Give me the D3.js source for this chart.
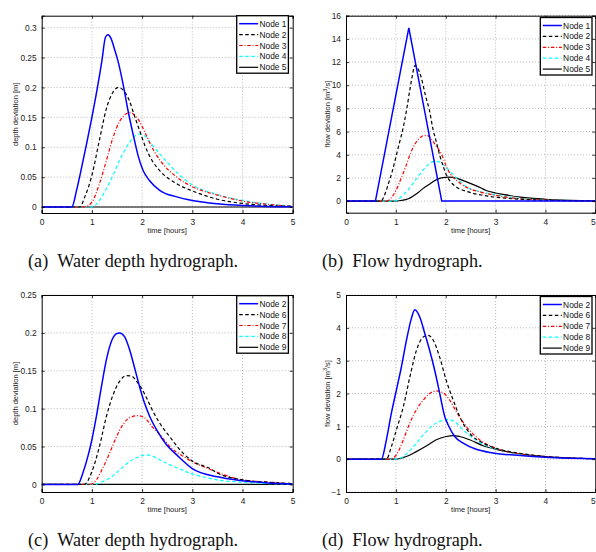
<!DOCTYPE html>
<html>
<head>
<meta charset="utf-8">
<script src="https://cdn.jsdelivr.net/npm/d3@7"></script>
<style>
  body { margin: 0; background: #fff; }
  svg { display: block; font-family: "Liberation Sans", Arial, sans-serif; }
</style>
</head>
<body>
<svg id="chart"></svg>
<script>
// ---- data: [time in hours, value] ----
const timeTicks = [0, 1, 2, 3, 4, 5];

const depthTicksA = [0, 0.05, 0.1, 0.15, 0.2, 0.25, 0.3];
const flowTicksB = [0, 2, 4, 6, 8, 10, 12, 14, 16];
const depthTicksC = [0, 0.05, 0.1, 0.15, 0.2, 0.25];
const flowTicksD = [-1, 0, 1, 2, 3, 4, 5];

const aNode1 = [[0,0],[0.6,0],[0.7,0.03],[0.8,0.068],[0.9,0.108],[1.0,0.15],[1.1,0.195],[1.2,0.245],[1.27,0.284],[1.32,0.288],[1.38,0.282],[1.45,0.264],[1.52,0.244],[1.62,0.206],[1.72,0.161],[1.82,0.122],[1.93,0.083],[2.02,0.061],[2.15,0.044],[2.35,0.028],[2.69,0.017],[3.0,0.011],[3.5,0.0055],[4.0,0.0025],[4.5,0.001],[5,0.0003]];
const aNode2 = [[0,0],[0.76,0],[0.85,0.015],[1.0,0.053],[1.15,0.112],[1.29,0.165],[1.42,0.192],[1.53,0.2],[1.65,0.193],[1.75,0.177],[1.85,0.152],[1.95,0.128],[2.05,0.104],[2.19,0.079],[2.35,0.061],[2.69,0.039],[3.0,0.027],[3.5,0.013],[4.0,0.006],[4.5,0.0025],[5,0.001]];
const aNode3 = [[0,0],[0.85,0],[1.0,0.008],[1.15,0.039],[1.29,0.078],[1.42,0.116],[1.55,0.143],[1.67,0.155],[1.76,0.158],[1.85,0.154],[1.95,0.143],[2.05,0.126],[2.19,0.101],[2.35,0.079],[2.69,0.05],[3.0,0.034],[3.5,0.02],[4.0,0.01],[4.5,0.0045],[5,0.0015]];
const aNode4 = [[0,0],[1.0,0],[1.15,0.011],[1.29,0.031],[1.42,0.053],[1.55,0.078],[1.69,0.1],[1.82,0.116],[1.95,0.122],[2.05,0.119],[2.15,0.109],[2.35,0.089],[2.69,0.058],[3.0,0.037],[3.5,0.021],[4.0,0.011],[4.5,0.005],[5,0.0015]];
const aNode5 = [[0,0],[5,0]];

const bNode1 = [[0,0],[0.59,0],[1.26,14.95],[1.92,0],[5,0]];
const bNode2 = [[0,0],[0.7,0],[0.78,0.6],[0.85,1.5],[0.93,2.6],[1.0,3.8],[1.07,5.0],[1.15,6.4],[1.22,8.0],[1.28,9.6],[1.33,10.8],[1.38,11.7],[1.42,11.6],[1.5,10.8],[1.6,9.0],[1.67,7.9],[1.75,6.1],[1.8,5.3],[1.88,3.95],[1.95,3.0],[2.02,2.2],[2.1,1.65],[2.2,1.26],[2.47,0.77],[2.75,0.5],[3.0,0.34],[3.5,0.16],[4.0,0.08],[4.5,0.03],[5,0.01]];
const bNode3 = [[0,0],[0.82,0],[0.9,0.25],[1.0,0.9],[1.1,1.9],[1.2,3.0],[1.3,4.2],[1.38,4.9],[1.47,5.4],[1.57,5.66],[1.63,5.65],[1.7,5.45],[1.8,4.8],[1.87,4.4],[1.95,3.7],[2.02,2.9],[2.1,2.3],[2.2,1.85],[2.3,1.5],[2.48,1.06],[2.7,0.78],[3.0,0.5],[3.5,0.2],[4.0,0.1],[4.5,0.04],[5,0.01]];
const bNode4 = [[0,0],[0.97,0],[1.05,0.15],[1.15,0.55],[1.25,1.0],[1.35,1.55],[1.45,2.15],[1.55,2.7],[1.65,3.15],[1.75,3.4],[1.85,3.4],[1.92,3.28],[2.0,2.95],[2.1,2.5],[2.21,2.0],[2.3,1.65],[2.41,1.26],[2.68,0.83],[3.0,0.55],[3.4,0.27],[4.0,0.11],[4.5,0.05],[5,0.02]];
const bNode5 = [[0,0],[0.95,0],[1.1,0.05],[1.25,0.2],[1.35,0.45],[1.45,0.75],[1.55,1.1],[1.67,1.45],[1.75,1.7],[1.91,2.0],[2.07,2.07],[2.2,2.0],[2.3,1.85],[2.48,1.55],[2.7,1.15],[2.81,0.92],[3.0,0.7],[3.15,0.58],[3.5,0.34],[4.0,0.16],[4.5,0.07],[5,0.03]];

const cNode2 = [[0,0],[0.72,0],[0.82,0.015],[0.92,0.037],[1.0,0.059],[1.09,0.09],[1.19,0.129],[1.29,0.165],[1.39,0.189],[1.49,0.199],[1.55,0.2],[1.65,0.195],[1.75,0.178],[1.85,0.154],[1.95,0.129],[2.05,0.107],[2.15,0.09],[2.29,0.072],[2.49,0.052],[2.69,0.039],[3.0,0.021],[3.5,0.01],[4.0,0.005],[4.5,0.002],[5,0.0005]];
const cNode6 = [[0,0],[0.85,0],[1.0,0.017],[1.15,0.05],[1.29,0.09],[1.42,0.118],[1.55,0.136],[1.69,0.1435],[1.79,0.143],[1.89,0.136],[1.99,0.127],[2.09,0.114],[2.22,0.096],[2.35,0.081],[2.55,0.063],[2.82,0.041],[3.0,0.031],[3.35,0.021],[3.5,0.015],[4.0,0.006],[4.5,0.003],[5,0.001]];
const cNode7 = [[0,0],[0.95,0],[1.09,0.006],[1.22,0.022],[1.35,0.041],[1.49,0.063],[1.62,0.079],[1.75,0.088],[1.92,0.0907],[2.05,0.088],[2.19,0.077],[2.35,0.066],[2.55,0.05],[2.82,0.037],[3.0,0.03],[3.35,0.02],[3.5,0.016],[4.0,0.006],[4.5,0.003],[5,0.001]];
const cNode8 = [[0,0],[1.05,0],[1.22,0.004],[1.35,0.008],[1.55,0.019],[1.75,0.03],[1.95,0.037],[2.09,0.039],[2.22,0.037],[2.42,0.03],[2.69,0.022],[3.0,0.014],[3.35,0.008],[3.5,0.006],[4.0,0.003],[4.5,0.0012],[5,0.0004]];
const cNode9 = [[0,0],[5,0]];

const dNode2 = [[0,0],[0.71,0],[0.81,0.59],[0.91,1.4],[1.01,2.1],[1.11,2.8],[1.21,3.6],[1.31,4.28],[1.38,4.55],[1.48,4.33],[1.58,3.83],[1.68,3.3],[1.78,2.7],[1.88,2.0],[1.98,1.3],[2.05,1.04],[2.18,0.69],[2.35,0.49],[2.61,0.3],[2.95,0.19],[3.5,0.11],[4.0,0.06],[4.5,0.03],[5,0.01]];
const dNode6 = [[0,0],[0.81,0],[0.91,0.38],[1.01,0.89],[1.15,1.6],[1.28,2.5],[1.41,3.3],[1.55,3.72],[1.65,3.77],[1.75,3.62],[1.88,3.1],[2.01,2.4],[2.15,1.8],[2.28,1.3],[2.48,0.79],[2.75,0.49],[3.01,0.33],[3.48,0.18],[4.0,0.08],[4.5,0.035],[5,0.012]];
const dNode7 = [[0,0],[0.88,0],[1.01,0.13],[1.15,0.59],[1.28,1.1],[1.41,1.5],[1.55,1.8],[1.68,2.0],[1.81,2.08],[1.95,2.02],[2.08,1.8],[2.21,1.45],[2.41,1.0],[2.68,0.59],[3.01,0.33],[3.41,0.18],[4.0,0.08],[4.5,0.035],[5,0.012]];
const dNode8 = [[0,0],[0.98,0],[1.15,0.08],[1.35,0.38],[1.55,0.74],[1.75,1.04],[1.91,1.17],[2.05,1.21],[2.18,1.14],[2.35,0.89],[2.55,0.64],[2.81,0.41],[3.15,0.26],[3.48,0.16],[4.0,0.08],[4.5,0.035],[5,0.012]];
const dNode9 = [[0,0],[1.0,0],[1.21,0.08],[1.41,0.23],[1.61,0.4],[1.81,0.59],[2.01,0.69],[2.15,0.72],[2.28,0.69],[2.48,0.59],[2.75,0.41],[3.01,0.3],[3.41,0.18],[4.0,0.08],[4.5,0.035],[5,0.012]];

// ---- line styles ----
const styles = {
  blue:  { stroke: '#0000ff', dash: null,      width: 1.5 },
  kdash: { stroke: '#000000', dash: '3.5,2.5', width: 1.2 },
  rdot:  { stroke: '#ff0000', dash: '3.5,1.8,1,1.8', width: 1.2 },
  cdash: { stroke: '#00ffff', dash: '3.5,2.5', width: 1.2 },
  ksol:  { stroke: '#000000', dash: null,      width: 1.2 }
};

const panels = [
  { box: [41.7, 15.7, 292.7, 213], ydom: [-0.01, 0.32], yticks: depthTicksA, fmt: d3.format('~g'),
    ylabel: 'depth deviation [m]', labOff: 23.5, sup: false, leg: [236.7, 15.7], caption: ['(a)', 'Water depth hydrograph.'], capY: 267,
    series: [['Node 1', aNode1, 'blue', false], ['Node 2', aNode2, 'kdash'], ['Node 3', aNode3, 'rdot'], ['Node 4', aNode4, 'cdash'], ['Node 5', aNode5, 'ksol']] },
  { box: [346, 15.7, 595.3, 212.7], ydom: [-1, 16], yticks: flowTicksB, fmt: d3.format('d'),
    ylabel: 'flow deviation [m', labOff: 16.5, sup: true, leg: [540.3, 17.5], caption: ['(b)', 'Flow hydrograph.'], capY: 267,
    series: [['Node 1', bNode1, 'blue', true], ['Node 2', bNode2, 'kdash'], ['Node 3', bNode3, 'rdot'], ['Node 4', bNode4, 'cdash'], ['Node 5', bNode5, 'ksol']] },
  { box: [41.7, 295, 292.7, 492], ydom: [-0.01, 0.25], yticks: depthTicksC, fmt: d3.format('~g'),
    ylabel: 'depth deviation [m]', labOff: 23.5, sup: false, leg: [236.7, 295.7], caption: ['(c)', 'Water depth hydrograph.'], capY: 546,
    series: [['Node 2', cNode2, 'blue'], ['Node 6', cNode6, 'kdash'], ['Node 7', cNode7, 'rdot'], ['Node 8', cNode8, 'cdash'], ['Node 9', cNode9, 'ksol']] },
  { box: [346, 295, 595.3, 492], ydom: [-1, 5], yticks: flowTicksD, fmt: d => d < 0 ? '\u2212' + Math.abs(d) : String(d),
    ylabel: 'flow deviation [m', labOff: 16.5, sup: true, leg: [540.3, 296.5], caption: ['(d)', 'Flow hydrograph.'], capY: 546,
    series: [['Node 2', dNode2, 'blue'], ['Node 6', dNode6, 'kdash'], ['Node 7', dNode7, 'rdot'], ['Node 8', dNode8, 'cdash'], ['Node 9', dNode9, 'ksol']] }
];

const svg = d3.select('#chart').attr('width', 596).attr('height', 552);

panels.forEach((p, i) => {
  const [x0, y0, x1, y1] = p.box;
  const x = d3.scaleLinear().domain([0, 5]).range([x0, x1]);
  const y = d3.scaleLinear().domain(p.ydom).range([y1, y0]);
  const g = svg.append('g');

  // grid
  g.selectAll('.vg').data(timeTicks.slice(1, -1)).enter().append('line')
    .attr('x1', d => x(d)).attr('x2', d => x(d)).attr('y1', y0).attr('y2', y1)
    .attr('stroke', '#a8a8a8').attr('stroke-width', 0.8).attr('stroke-dasharray', '1,2');
  g.selectAll('.hg').data(p.yticks).enter().append('line')
    .attr('x1', x0).attr('x2', x1).attr('y1', d => y(d)).attr('y2', d => y(d))
    .attr('stroke', '#a8a8a8').attr('stroke-width', 0.8).attr('stroke-dasharray', '1,2');

  // curves
  svg.append('clipPath').attr('id', 'clip' + i).append('rect')
    .attr('x', x0).attr('y', y0).attr('width', x1 - x0).attr('height', y1 - y0);
  const plot = g.append('g').attr('clip-path', 'url(#clip' + i + ')');
  p.series.slice().reverse().forEach(s => {
    const st = styles[s[2]];
    const line = d3.line().x(d => x(d[0])).y(d => y(d[1]))
      .curve(s[3] ? d3.curveLinear : d3.curveMonotoneX);
    plot.append('path').datum(s[1]).attr('d', line)
      .attr('fill', 'none').attr('stroke', st.stroke).attr('stroke-width', st.width)
      .attr('stroke-dasharray', st.dash);
  });

  // axes
  const xAxis = d3.axisBottom(x).tickValues(timeTicks).tickSize(-3).tickPadding(6).tickFormat(d3.format('d'));
  const xTop = d3.axisTop(x).tickValues(timeTicks).tickSize(-3).tickFormat('');
  const yAxis = d3.axisLeft(y).tickValues(p.yticks).tickSize(-3).tickPadding(5).tickFormat(p.fmt);
  const yRight = d3.axisRight(y).tickValues(p.yticks).tickSize(-3).tickFormat('');
  [[xAxis, `translate(0,${y1})`], [xTop, `translate(0,${y0})`], [yAxis, `translate(${x0},0)`], [yRight, `translate(${x1},0)`]]
    .forEach(([ax, tr]) => {
      const a = g.append('g').attr('transform', tr).call(ax);
      a.select('.domain').attr('stroke', '#000').attr('stroke-width', 1);
      a.selectAll('.tick line').attr('stroke', '#000').attr('stroke-width', 0.8);
      a.selectAll('text').attr('font-size', 8.4).attr('fill', '#222')
        .attr('font-family', '"Liberation Sans", Arial, sans-serif');
      // keep the last time label inside the page on the right-hand panels
      if (ax === xAxis && x1 > 590) {
        a.selectAll('.tick text').filter(d => d === 5).attr('dx', -2.5);
      }
    });

  // axis labels
  g.append('text').attr('x', (x0 + x1) / 2).attr('y', y1 + 20).attr('text-anchor', 'middle')
    .attr('font-size', 7.5).attr('fill', '#222').text('time [hours]');
  const yl = g.append('text')
    .attr('transform', `translate(${x0 - p.labOff},${(y0 + y1) / 2}) rotate(-90)`)
    .attr('text-anchor', 'middle').attr('font-size', 7.5).attr('fill', '#222').text(p.ylabel);
  if (p.sup) {
    yl.append('tspan').attr('font-size', 5.5).attr('dy', -3).text('3');
    yl.append('tspan').attr('dy', 3).text('/s]');
  }

  // legend
  const [lx, ly] = p.leg;
  const leg = g.append('g');
  leg.append('rect').attr('x', lx).attr('y', ly).attr('width', 51.7).attr('height', 57.5)
    .attr('fill', '#fff').attr('stroke', '#000').attr('stroke-width', 1.3);
  p.series.forEach((s, k) => {
    const st = styles[s[2]];
    const ry = ly + 8 + k * 10.9;
    leg.append('line').attr('x1', lx + 2.5).attr('x2', lx + 21.5).attr('y1', ry).attr('y2', ry)
      .attr('stroke', st.stroke).attr('stroke-width', st.width).attr('stroke-dasharray', st.dash);
    leg.append('text').attr('x', lx + 22.8).attr('y', ry + 3).attr('font-size', 8.4)
      .attr('fill', '#111').text(s[0]);
  });

  // caption
  const cx = i % 2 === 0 ? 28 : 322;
  const cap = svg.append('text').attr('x', cx).attr('y', p.capY)
    .attr('font-family', '"Liberation Serif", "Times New Roman", serif').attr('font-size', 18.2).attr('fill', '#111');
  cap.append('tspan').text(p.caption[0]);
  cap.append('tspan').attr('dx', 9).text(p.caption[1]);
});
</script>
</body>
</html>
